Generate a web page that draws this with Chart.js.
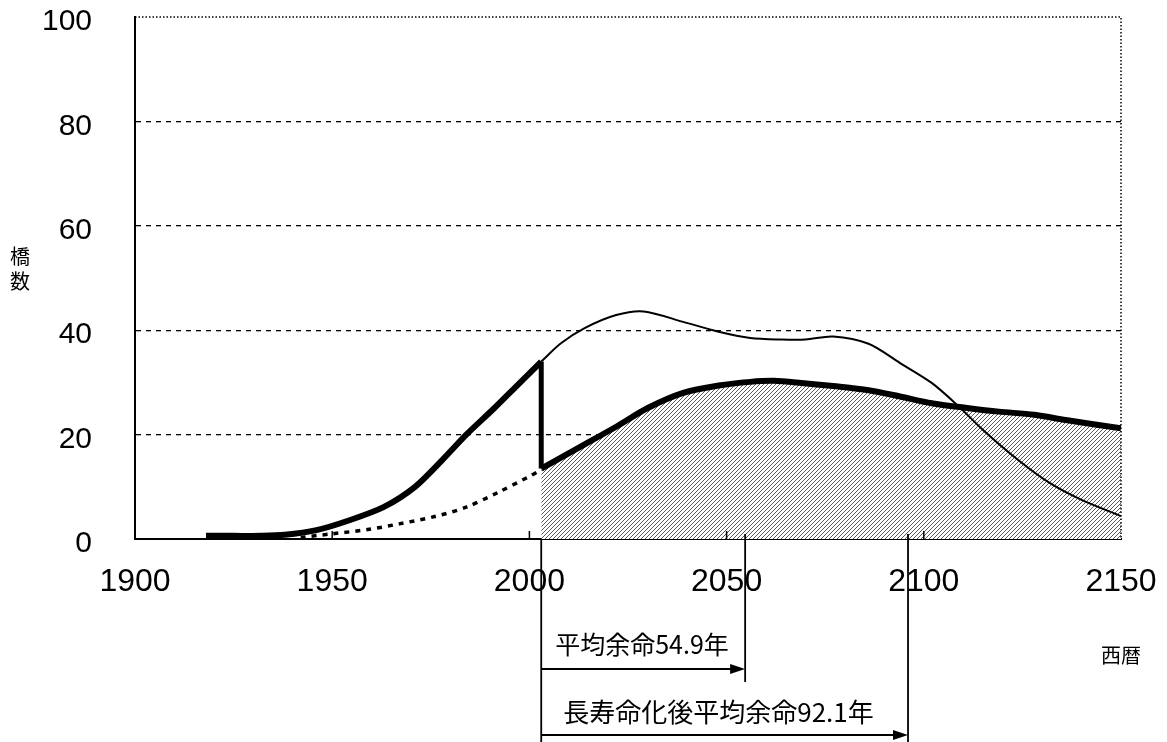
<!DOCTYPE html>
<html>
<head>
<meta charset="utf-8">
<script src="https://cdn.jsdelivr.net/npm/chart.js@4.4.1/dist/chart.umd.min.js"></script>
<style>
  html, body { margin: 0; padding: 0; background: #fff; }
  #wrap { width: 1167px; height: 742px; position: relative; }
</style>
</head>
<body>
<div id="wrap"><canvas id="bridgeChart"></canvas></div>
<script>
// x / y ticks
const xTicks = [1900, 1950, 2000, 2050, 2100, 2150];
const yTicks = [0, 20, 40, 60, 80, 100];

// built bridges per year (thick line, up to now)
const pastYears  = [1918, 1925, 1932, 1938, 1946, 1954, 1963, 1971, 1978, 1984, 1991, 1997, 2003];
const pastValues = [0.6, 0.6, 0.6, 0.8, 1.7, 3.5, 6.1, 10.0, 15.2, 20.0, 25.0, 29.5, 34.0];

// the drop at the present year
const jumpYears  = [2003, 2003];
const jumpValues = [34.0, 13.5];

// dotted line before present
const dotYears  = [1942, 1950, 1959, 1967, 1976, 1984, 1992, 2000, 2003];
const dotValues = [0.3, 1.0, 1.8, 2.9, 4.3, 6.1, 8.9, 12.0, 13.3];

// thin line: renewals without life extension
const thinYears  = [2003, 2008, 2014, 2022, 2029, 2039, 2048, 2056, 2064, 2070, 2077, 2086, 2094, 2102, 2109, 2115, 2124, 2132, 2140, 2150];
const thinValues = [34.0, 37.5, 40.4, 42.9, 43.6, 41.6, 39.7, 38.5, 38.2, 38.2, 38.8, 37.4, 33.7, 29.9, 25.3, 20.9, 15.1, 10.7, 7.5, 4.4];

// thick line with hatched area: after life extension
const postYears  = [2003, 2013, 2022, 2030, 2039, 2048, 2056, 2062, 2069, 2077, 2086, 2094, 2102, 2111, 2119, 2128, 2136, 2150];
const postValues = [13.5, 17.7, 21.5, 25.1, 28.0, 29.4, 30.1, 30.3, 29.9, 29.3, 28.5, 27.3, 26.0, 25.1, 24.4, 23.8, 22.8, 21.2];

// arrows under the axis
const lifeStart  = 2003;
const lifeEnds   = [2054.7, 2096];
const lifeLabels = ["平均余命54.9年", "長寿命化後平均余命92.1年"];

const yTitle = ["橋", "数"];
const xTitle = "西暦";

const numFont = "'Liberation Sans', Arial, sans-serif";
const jpFont = "'Noto Sans CJK JP', sans-serif";

function toPoints(xs, ys) {
    return xs.map((v, i) => ({x: v, y: ys[i]}));
}

function makeHatch() {
    const c = document.createElement("canvas");
    c.width = 4;
    c.height = 4;
    const g = c.getContext("2d");
    g.fillStyle = "#fff";
    g.fillRect(0, 0, 4, 4);
    g.strokeStyle = "#5a5a5a";
    g.lineWidth = 1;
    g.beginPath();
    g.moveTo(0, 4); g.lineTo(4, 0);
    g.moveTo(-1, 1); g.lineTo(1, -1);
    g.moveTo(3, 5); g.lineTo(5, 3);
    g.stroke();
    return g.createPattern(c, "repeat");
}

function arrow(ctx, x1, x2, y) {
    ctx.beginPath();
    ctx.moveTo(x1, y);
    ctx.lineTo(x2 - 12, y);
    ctx.stroke();
    ctx.beginPath();
    ctx.moveTo(x2, y);
    ctx.lineTo(x2 - 15, y - 5);
    ctx.lineTo(x2 - 15, y + 5);
    ctx.closePath();
    ctx.fill();
}

const extras = {
    id: "extras",
    afterDraw(chart) {
        const {ctx, chartArea: a, scales: {x}} = chart;
        ctx.save();
        ctx.strokeStyle = "#000";
        ctx.fillStyle = "#000";

        // dotted top and right frame
        ctx.lineWidth = 1.5;
        ctx.setLineDash([1.5, 2]);
        ctx.beginPath();
        ctx.moveTo(a.left, a.top);
        ctx.lineTo(a.right, a.top);
        ctx.lineTo(a.right, a.bottom);
        ctx.stroke();
        ctx.setLineDash([]);

        // small inner ticks
        ctx.lineWidth = 1.5;
        x.ticks.forEach(t => {
            if (t.value <= x.min || t.value >= x.max) return;
            const px = x.getPixelForValue(t.value);
            ctx.beginPath();
            ctx.moveTo(px, a.bottom);
            ctx.lineTo(px, a.bottom - 8);
            ctx.stroke();
        });

        // remaining life arrows
        const x0 = x.getPixelForValue(lifeStart);
        ctx.lineWidth = 1.8;
        ctx.beginPath();
        ctx.moveTo(x0, a.bottom);
        ctx.lineTo(x0, 742);
        ctx.stroke();

        const rows = [669, 735];
        const textRows = [644, 712];
        const textIndent = [14, 22];
        const sizes = [25, 26];
        lifeEnds.forEach((end, i) => {
            const xe = x.getPixelForValue(end);
            ctx.beginPath();
            ctx.moveTo(xe, a.bottom - 5);
            ctx.lineTo(xe, rows[i] + 13);
            ctx.stroke();
            arrow(ctx, x0, xe, rows[i]);
            ctx.font = sizes[i] + "px " + jpFont;
            ctx.textAlign = "left";
            ctx.textBaseline = "middle";
            ctx.fillText(lifeLabels[i], x0 + textIndent[i], textRows[i]);
        });

        // axis titles
        ctx.font = "20px " + jpFont;
        ctx.textAlign = "center";
        ctx.textBaseline = "middle";
        yTitle.forEach((ch, i) => ctx.fillText(ch, 20, 256 + i * 25));
        ctx.fillText(xTitle, 1121, 655);
        ctx.restore();
    }
};

const line = {
    borderColor: "#000",
    pointRadius: 0,
    fill: false
};

new Chart(document.getElementById("bridgeChart"), {
    type: "line",
    data: {
        datasets: [
            {...line, label: "実績", data: toPoints(pastYears, pastValues), borderWidth: 6, tension: 0.3},
            {...line, label: "現在", data: toPoints(jumpYears, jumpValues), borderWidth: 5, tension: 0},
            {...line, label: "従来", data: toPoints(dotYears, dotValues), borderWidth: 3.5, borderDash: [5, 6], tension: 0.3},
            {...line, label: "更新", data: toPoints(thinYears, thinValues), borderWidth: 2, tension: 0.3},
            {
                ...line,
                label: "長寿命化後",
                data: toPoints(postYears, postValues),
                borderWidth: 6,
                tension: 0.3,
                fill: "origin",
                backgroundColor: makeHatch()
            }
        ]
    },
    options: {
        animation: false,
        responsive: true,
        maintainAspectRatio: false,
        layout: {padding: {top: 17, right: 46, bottom: 143, left: 0}},
        plugins: {
            legend: {display: false},
            tooltip: {enabled: false}
        },
        scales: {
            x: {
                type: "linear",
                min: 1900,
                max: 2150,
                afterBuildTicks: s => { s.ticks = xTicks.map(v => ({value: v})); },
                afterFit: s => {
                    s.height = 60;
                    s.paddingLeft = 0;
                    s.paddingRight = 0;
                },
                grid: {display: false, drawTicks: false},
                border: {display: true, color: "#000", width: 2},
                ticks: {
                    color: "#000",
                    padding: 24,
                    maxRotation: 0,
                    font: {family: numFont, size: 32},
                    callback: v => String(v)
                }
            },
            y: {
                min: 0,
                max: 100,
                afterBuildTicks: s => { s.ticks = yTicks.map(v => ({value: v})); },
                afterFit: s => {
                    s.width = 135;
                    s.paddingTop = 0;
                    s.paddingBottom = 0;
                },
                grid: {
                    drawTicks: false,
                    lineWidth: 1.3,
                    color: c => (c.tick && c.tick.value > 0 && c.tick.value < 100) ? "#000" : "rgba(0,0,0,0)"
                },
                border: {display: true, color: "#000", width: 2, dash: [5, 5]},
                ticks: {
                    color: "#000",
                    padding: 43,
                    labelOffset: 5,
                    font: {family: numFont, size: 30}
                }
            }
        }
    },
    plugins: [extras]
});
</script>
</body>
</html>
